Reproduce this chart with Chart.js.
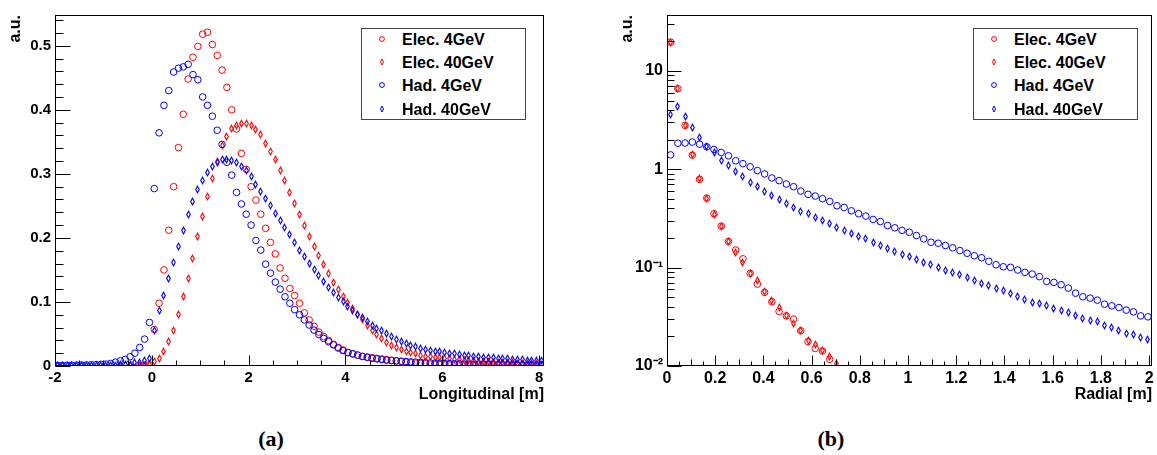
<!DOCTYPE html>
<html>
<head>
<meta charset="utf-8">
<script src="https://cdn.jsdelivr.net/npm/chart.js@4.4.1/dist/chart.umd.min.js"></script>
<style>
  html, body { margin: 0; padding: 0; background: #fff; }
  body { width: 1157px; height: 455px; position: relative; overflow: hidden; font-family: "Liberation Sans", Arial, sans-serif; }
  canvas { position: absolute; top: 0; }
  #chartA { left: 0; }
  #chartB { left: 578px; }
  .leg { position: absolute; top: 28px; width: 163px; height: 90px; border: 1px solid #444; background: #fff; }
  .leg .row { position: absolute; left: 0; right: 0; height: 23px; line-height: 23px; font-size: 16px; font-weight: bold; color: #000; white-space: nowrap; }
  .leg .row span { position: absolute; left: 40px; top: 0; }
  .leg .row svg { position: absolute; top: 6px; }
  .cap { position: absolute; top: 426px; width: 80px; text-align: center; font-family: "Liberation Serif", "Times New Roman", serif; font-weight: bold; font-size: 22px; color: #000; }
</style>
</head>
<body>
<canvas id="chartA" width="578" height="410"></canvas>
<canvas id="chartB" width="579" height="410"></canvas>
<div class="leg" id="legA" style="left:361px;"></div>
<div class="leg" id="legB" style="left:973px;"></div>
<div class="cap" style="left:231px;">(a)</div>
<div class="cap" style="left:791px;">(b)</div>

<script>
// Series names and styles (same in both plots)
const seriesNames = ['Elec. 4GeV', 'Elec. 40GeV', 'Had. 4GeV', 'Had. 40GeV'];
const seriesColors = ['#ff0000', '#ff0000', '#0000ff', '#0000ff'];
const seriesMarks = ['circle', 'diamond', 'circle', 'diamond'];

// (a) Longitudinal profile: 101 bins of 0.1 m from -2 to 8.1 m
const longMin = -2, longBin = 0.1, longBins = 101;
const elec4L = [
  null, null, null, null, null, null, null, null, null, null,
  null, null, null, null, null, null, null, 0.0005, 0.001, 0.002,
  0.057, 0.098, 0.150, 0.212, 0.280, 0.341, 0.393, 0.448, 0.482, 0.499,
  0.518, 0.521, 0.502, 0.485, 0.462, 0.435, 0.400, 0.370, 0.332, 0.307,
  0.280, 0.259, 0.237, 0.215, 0.193, 0.175, 0.153, 0.137, 0.121, 0.110,
  0.098, 0.083, 0.072, 0.062, 0.053, 0.046, 0.040, 0.034, 0.029, 0.025,
  0.021, 0.019, 0.017, 0.015, 0.014, 0.013, 0.012, 0.011, 0.010, 0.009,
  0.008, 0.007, 0.006, 0.005, 0.0045, 0.004, 0.0035, 0.003, 0.0027, 0.0024,
  0.0021, 0.002, 0.0019, 0.0018, 0.0017, 0.0016, 0.0015, 0.0014, 0.0013, 0.0012,
  0.0012, 0.0011, 0.0011, 0.001, 0.001, 0.0009, 0.0009, 0.0008, 0.0008, 0.0008,
  0.0007
];
const elec40L = [
  null, null, null, null, null, null, null, null, null, null,
  null, null, null, 0.0005, null, 0.0008, null, 0.001, 0.0015, 0.0016,
  0.007, 0.012, 0.022, 0.0375, 0.056, 0.081, 0.108, 0.137, 0.168, 0.202,
  0.233, 0.264, 0.293, 0.320, 0.345, 0.358, 0.371, 0.376, 0.378, 0.378,
  0.375, 0.370, 0.362, 0.347, 0.335, 0.322, 0.305, 0.289, 0.271, 0.253,
  0.237, 0.219, 0.202, 0.186, 0.172, 0.158, 0.144, 0.131, 0.119, 0.108,
  0.099, 0.090, 0.080, 0.072, 0.064, 0.056, 0.049, 0.043, 0.037, 0.032,
  0.029, 0.026, 0.023, 0.021, 0.019, 0.017, 0.0155, 0.0145, 0.0135, 0.013,
  0.012, 0.0112, 0.0105, 0.0098, 0.0092, 0.0086, 0.008, 0.0075, 0.007, 0.0066,
  0.0062, 0.0058, 0.0054, 0.005, 0.0047, 0.0044, 0.004, 0.0037, 0.0034, 0.0032,
  0.003
];
const had4L = [
  0.001, 0.001, 0.0012, 0.0012, 0.0014, 0.0015, 0.0017, 0.002, 0.0022, 0.0026,
  0.003, 0.004, 0.006, 0.008, 0.0104, 0.0145, 0.020, 0.029, 0.042, 0.068,
  0.277, 0.364, 0.407, 0.430, 0.459, 0.465, 0.467, 0.471, 0.455, 0.447,
  0.420, 0.407, 0.390, 0.368, 0.346, 0.318, 0.298, 0.271, 0.253, 0.237,
  0.220, 0.196, 0.181, 0.159, 0.145, 0.131, 0.120, 0.108, 0.098, 0.088,
  0.080, 0.072, 0.064, 0.056, 0.049, 0.043, 0.038, 0.033, 0.028, 0.024,
  0.021, 0.019, 0.017, 0.015, 0.0135, 0.012, 0.011, 0.010, 0.009, 0.0085,
  0.008, 0.0075, 0.007, 0.0065, 0.006, 0.0056, 0.0052, 0.0048, 0.0045, 0.0042,
  0.004, 0.0037, 0.0035, 0.0033, 0.0031, 0.003, 0.0028, 0.0027, 0.0026, 0.0024,
  0.0023, 0.0022, 0.0021, 0.002, 0.0019, 0.0018, 0.0017, 0.0016, 0.0016, 0.0015,
  0.0014
];
const had40L = [
  0.0003, 0.0003, 0.0004, 0.0004, 0.0005, 0.0005, 0.0006, 0.0007, 0.0008, 0.0009,
  0.001, 0.0012, 0.0015, 0.002, 0.0025, 0.003, 0.005, 0.006, 0.009, 0.012,
  0.056, 0.086, 0.110, 0.136, 0.161, 0.186, 0.211, 0.236, 0.257, 0.275,
  0.290, 0.302, 0.311, 0.318, 0.322, 0.323, 0.321, 0.317, 0.312, 0.305,
  0.296, 0.284, 0.272, 0.262, 0.250, 0.238, 0.227, 0.217, 0.205, 0.193,
  0.181, 0.171, 0.160, 0.151, 0.141, 0.132, 0.123, 0.115, 0.107, 0.100,
  0.093, 0.086, 0.080, 0.075, 0.069, 0.064, 0.059, 0.055, 0.050, 0.046,
  0.042, 0.038, 0.035, 0.032, 0.030, 0.028, 0.026, 0.024, 0.023, 0.022,
  0.021, 0.020, 0.019, 0.018, 0.017, 0.016, 0.015, 0.0145, 0.014, 0.013,
  0.0125, 0.012, 0.0115, 0.011, 0.0105, 0.010, 0.0095, 0.009, 0.0088, 0.0085,
  0.0082
];
const longTickVals = [-2, 0, 2, 4, 6, 8];
const longTickLabels = ['-2', '0', '2', '4', '6', '8'];
const auTickValsA = [0, 0.1, 0.2, 0.3, 0.4, 0.5];
const auTickLabelsA = ['0', '0.1', '0.2', '0.3', '0.4', '0.5'];

// (b) Radial profile: 67 bins of 0.03 m from 0 to 2.01 m (log y)
const radMin = 0, radBin = 0.03, radBins = 67;
const elec4R = [19.6, 6.6, 2.79, 1.39, 0.79, 0.509, 0.353, 0.264, 0.185, 0.151,
  0.123, 0.0875, 0.068, 0.056, 0.045, 0.0358, 0.0324, 0.030, 0.0228, 0.0177,
  0.0151, 0.0142, 0.0117];
const elec40R = [19.4, 6.7, 2.80, 1.40, 0.80, 0.510, 0.350, 0.260, 0.186, 0.141,
  0.113, 0.088, 0.0735, 0.057, 0.046, 0.039, 0.0326, 0.027, 0.0232, 0.018,
  0.0166, 0.0145, 0.0124, 0.0107];
const had4R = [
  1.40, 1.84, 1.85, 1.89, 1.80, 1.69, 1.59, 1.48, 1.37, 1.22,
  1.14, 1.06, 0.97, 0.896, 0.815, 0.767, 0.708, 0.665, 0.600, 0.556,
  0.534, 0.502, 0.471, 0.426, 0.409, 0.378, 0.353, 0.334, 0.309, 0.294,
  0.268, 0.254, 0.239, 0.229, 0.212, 0.196, 0.181, 0.177, 0.168, 0.159,
  0.149, 0.140, 0.132, 0.126, 0.116, 0.107, 0.102, 0.1007, 0.0946, 0.0895,
  0.086, 0.081, 0.0724, 0.0707, 0.067, 0.062, 0.055, 0.0505, 0.049, 0.0467,
  0.0425, 0.0409, 0.0393, 0.037, 0.0355, 0.0323, 0.0316
];
const had40R = [
  3.61, 4.32, 3.42, 2.67, 2.10, 1.72, 1.47, 1.24, 1.08, 0.955,
  0.836, 0.742, 0.671, 0.601, 0.543, 0.498, 0.453, 0.412, 0.376, 0.353,
  0.324, 0.302, 0.279, 0.258, 0.239, 0.224, 0.208, 0.196, 0.179, 0.166,
  0.157, 0.146, 0.136, 0.129, 0.120, 0.113, 0.107, 0.1007, 0.0946, 0.0895,
  0.0849, 0.0785, 0.0737, 0.069, 0.0655, 0.062, 0.0583, 0.0547, 0.0505, 0.0479,
  0.0442, 0.0432, 0.041, 0.0388, 0.037, 0.035, 0.0323, 0.0306, 0.0292, 0.0283,
  0.026, 0.0246, 0.0231, 0.0213, 0.021, 0.0194, 0.0184
];
const radTickVals = [0, 0.2, 0.4, 0.6, 0.8, 1, 1.2, 1.4, 1.6, 1.8, 2];
const radTickLabels = ['0', '0.2', '0.4', '0.6', '0.8', '1', '1.2', '1.4', '1.6', '1.8', '2'];
const auTickValsB = [0.01, 0.1, 1, 10];
const auTickLabelsB = ['10\u207B\u00B2', '10\u207B\u00B9', '1', '10'];

// bin centres of the histograms
const longCenters = [];
for (let i = 0; i < longBins; i++) longCenters.push(Math.round((longMin + longBin * (i + 0.5)) * 1000) / 1000);
const radCenters = [];
for (let i = 0; i < radBins; i++) radCenters.push(Math.round((radMin + radBin * (i + 0.5)) * 1000) / 1000);

// narrow open diamond like the ROOT marker
function diamondMark(color, hw, hh) {
  const c = document.createElement('canvas');
  c.width = 9; c.height = 11;
  const g = c.getContext('2d');
  g.strokeStyle = color;
  g.lineWidth = 1.1;
  g.beginPath();
  g.moveTo(4.5, 5.5 - hh); g.lineTo(4.5 + hw, 5.5); g.lineTo(4.5, 5.5 + hh); g.lineTo(4.5 - hw, 5.5);
  g.closePath();
  g.stroke();
  return c;
}

function buildSets(centers, series) {
  return series.map((vals, k) => ({
    label: seriesNames[k],
    data: vals.map((y, i) => ({ x: centers[i], y: y })),
    borderColor: seriesColors[k],
    backgroundColor: 'rgba(0,0,0,0)',
    pointStyle: seriesMarks[k] === 'circle' ? 'circle' : diamondMark(seriesColors[k], 1.8, 3.3),
    pointRadius: 3.3,
    pointBorderWidth: 1,
    showLine: false,
    order: 3 - k
  }));
}

// frame + inward tick marks (ROOT style); markers drawn without smoothing
function frameTicks(xSets, ySets) {
  return {
    id: 'frameTicks',
    beforeDatasetsDraw(chart) { chart.ctx.imageSmoothingEnabled = false; },
    afterDatasetsDraw(chart) { chart.ctx.imageSmoothingEnabled = true; },
    afterDraw(chart) {
      const { ctx, chartArea: a } = chart;
      const xs = chart.scales.x, ys = chart.scales.y;
      const L = Math.round(a.left) + 0.5, R = Math.round(a.right) - 0.5;
      const T = Math.round(a.top) + 0.5, B = Math.round(a.bottom) - 0.5;
      ctx.save();
      ctx.strokeStyle = '#000';
      ctx.lineWidth = 1;
      ctx.strokeRect(L, T, R - L, B - T);
      ctx.beginPath();
      xSets.forEach(([vals, len]) => vals.forEach(v => {
        const px = Math.round(xs.getPixelForValue(v)) + 0.5;
        ctx.moveTo(px, B); ctx.lineTo(px, B - len);
      }));
      ySets.forEach(([vals, len]) => vals.forEach(v => {
        const py = Math.round(ys.getPixelForValue(v)) + 0.5;
        ctx.moveTo(L, py); ctx.lineTo(L + len, py);
      }));
      ctx.stroke();
      ctx.restore();
    }
  };
}

function stepList(from, to, step) {
  const out = [];
  for (let v = from; v <= to + 1e-9; v += step) out.push(Math.round(v * 1000) / 1000);
  return out;
}

function makeChart(id, cfg) {
  const tickFont = { family: '"Liberation Sans", Arial, sans-serif', size: cfg.tickSize, weight: 'bold' };
  const titleFont = { family: '"Liberation Sans", Arial, sans-serif', size: 16, weight: 'bold', lineHeight: 1.2 };
  return new Chart(document.getElementById(id).getContext('2d'), {
    type: 'scatter',
    data: { datasets: buildSets(cfg.centers, cfg.series) },
    options: {
      responsive: false,
      animation: false,
      layout: { padding: { left: 0, top: 15, right: cfg.padRight, bottom: 0 } },
      plugins: { legend: { display: false }, tooltip: { enabled: false } },
      scales: {
        x: {
          type: 'linear', min: cfg.xMin, max: cfg.xMax,
          grid: { display: false, drawTicks: false },
          border: { display: false },
          afterBuildTicks: s => { s.ticks = cfg.xTicks.map(v => ({ value: v })); },
          afterFit: s => { s.height = 44; },
          ticks: { autoSkip: false, maxRotation: 0, padding: 3, color: '#000', font: tickFont,
                   callback: (v, i) => cfg.xLabels[i] },
          title: { display: true, text: cfg.xTitle, align: 'end', color: '#000', font: titleFont,
                   padding: { top: 0, bottom: 6 } }
        },
        y: {
          type: cfg.yType, min: cfg.yMin, max: cfg.yMax,
          grid: { display: false, drawTicks: false },
          border: { display: false },
          afterBuildTicks: s => { s.ticks = cfg.yTicks.map(v => ({ value: v })); },
          afterFit: s => { s.width = cfg.yWidth; },
          ticks: { autoSkip: false, padding: 4, color: '#000', font: tickFont,
                   callback: (v, i) => cfg.yLabels[i] },
          title: { display: true, text: 'a.u.', align: 'end', color: '#000', font: titleFont,
                   padding: { top: cfg.yTitlePad, bottom: 0 } }
        }
      }
    },
    plugins: [frameTicks(cfg.xTickMarks, cfg.yTickMarks)]
  });
}

// (a)
makeChart('chartA', {
  centers: longCenters,
  series: [elec4L, elec40L, had4L, had40L],
  xMin: -2, xMax: 8.1, yType: 'linear', yMin: 0, yMax: 0.548,
  xTicks: longTickVals, xLabels: longTickLabels,
  yTicks: auTickValsA, yLabels: auTickLabelsA,
  xTitle: 'Longitudinal [m]', tickSize: 15, yWidth: 55, yTitlePad: 6, padRight: 34,
  xTickMarks: [[longTickVals, 10], [stepList(-2, 8, 0.5), 5]],
  yTickMarks: [[auTickValsA, 15], [stepList(0, 0.54, 0.02), 8]]
});

// (b)
const logMinor = [];
[0.01, 0.1, 1].forEach(d => { for (let m = 2; m <= 9; m++) logMinor.push(Math.round(d * m * 1000) / 1000); });
logMinor.push(20, 30);
makeChart('chartB', {
  centers: radCenters,
  series: [elec4R, elec40R, had4R, had40R],
  xMin: 0, xMax: 2.012, yType: 'logarithmic', yMin: 0.01, yMax: 37,
  xTicks: radTickVals, xLabels: radTickLabels,
  yTicks: auTickValsB, yLabels: auTickLabelsB,
  xTitle: 'Radial [m]', tickSize: 16, yWidth: 89, yTitlePad: 40, padRight: 1,
  xTickMarks: [[radTickVals, 10], [stepList(0.1, 1.9, 0.2), 6], [stepList(0.05, 1.95, 0.1), 4]],
  yTickMarks: [[auTickValsB, 14], [logMinor, 7]]
});

// legends drawn as html boxes inside the frames
function buildLegend(id) {
  const box = document.getElementById(id);
  const rowCenters = [10.3, 33.3, 56.7, 80];
  seriesNames.forEach((name, k) => {
    const row = document.createElement('div');
    row.className = 'row';
    row.style.top = (rowCenters[k] - 11.5) + 'px';
    const mark = seriesMarks[k] === 'circle'
      ? '<circle cx="5" cy="5" r="2.4" fill="none" stroke="' + seriesColors[k] + '" stroke-width="1"/>'
      : '<polygon points="5,2 6.5,5 5,8 3.5,5" fill="none" stroke="' + seriesColors[k] + '" stroke-width="1"/>';
    row.innerHTML = '<svg width="10" height="10" style="left:' + (19.7 - 5) + 'px">' + mark + '</svg><span>' + name + '</span>';
    box.appendChild(row);
  });
}
buildLegend('legA');
buildLegend('legB');
</script>
</body>
</html>
